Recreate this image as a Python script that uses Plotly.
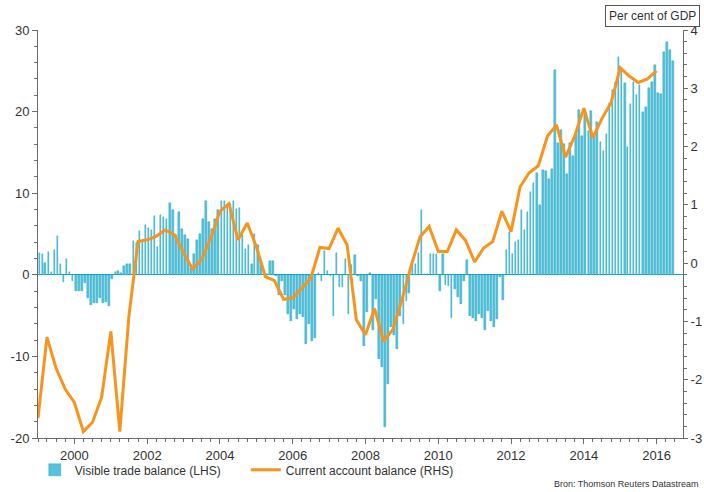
import pandas as pd
import plotly.graph_objects as go

# Visible trade balance (LHS), monthly 1999-01 .. 2016-06
trade_1999 = [2.7, 2.6, 1.5, 2.8, 0.3, 3.1, 4.7, 1.3, -0.9, 1.9, 0.3, -0.7]
trade_2000 = [-2.0, -2.0, -2.0, -1.0, -2.9, -3.7, -3.4, -3.4, -2.9, -3.4, -3.3, -3.8]
trade_2001 = [-0.5, 0.3, 0.45, 0.2, 1.1, 1.35, 1.35, 4.2, 3.9, 5.4, 4.2, 6.1]
trade_2002 = [5.7, 5.5, 7.2, 3.4, 7.3, 7.1, 6.9, 8.8, 7.9, 4.9, 7.7, 5.6]
trade_2003 = [4.9, 4.4, 0.8, 2.6, 4.3, 5.0, 6.8, 9.0, 6.5, 5.6, 6.9, 7.9]
trade_2004 = [9.0, 9.0, 8.5, 8.7, 9.1, 8.1, 8.2, 4.9, 3.2, 3.6, 1.3, 5.0]
trade_2005 = [3.6, 1.6, 0.1, 0.1, 1.7, 1.7, -0.2, -2.5, -0.7, -2.5, -4.8, -5.6]
trade_2006 = [-4.2, -5.4, -4.8, -5.2, -8.5, -6.0, -8.1, -7.8, 0.2, -0.7, 2.9, 0.5]
trade_2007 = [-0.2, -5.1, 2.7, -1.5, -1.5, 1.9, -4.8, 1.2, 2.4, -0.1, -0.7, -8.7]
trade_2008 = [-4.5, 0.2, -6.8, -3.0, -10.3, -11.3, -18.7, -13.4, -6.4, -7.4, -9.1, -5.0]
trade_2009 = [-6.0, -3.2, -2.2, 1.3, 1.3, 2.7, 8.0, 0.1, 0.05, 2.5, 2.5, 2.5]
trade_2010 = [-2.0, 2.5, -1.2, -1.4, -5.3, -1.7, -2.7, -3.6, -0.7, 1.8, -5.0, -5.3]
trade_2011 = [-5.6, -4.8, -5.3, -6.8, -4.4, -5.6, -6.4, -5.4, -0.3, -3.1, 3.0, 5.2]
trade_2012 = [2.5, 4.0, 4.3, 8.0, 5.5, 7.7, 10.2, 11.3, 12.5, 8.5, 12.9, 12.7]
trade_2013 = [11.7, 13.0, 25.1, 16.2, 17.8, 16.0, 12.4, 16.2, 14.6, 17.3, 20.2, 17.0]
trade_2014 = [20.2, 17.6, 20.1, 17.0, 18.7, 16.3, 15.2, 17.3, 21.1, 22.7, 23.6, 26.7]
trade_2015 = [25.2, 23.5, 15.7, 20.9, 23.6, 22.0, 23.3, 20.0, 20.6, 22.9, 23.6, 25.7]
trade_2016 = [22.3, 22.2, 27.3, 28.5, 27.6, 26.2]

# Current account balance (RHS, per cent of GDP), quarterly 1999Q1 .. 2016Q1
current_account = [
    -2.66, -1.27, -1.80, -2.16, -2.39, -2.89, -2.73, -2.30, -1.17, -2.89,
    -0.92, 0.37, 0.40, 0.46, 0.57, 0.49, 0.18, -0.10, 0.06, 0.43,
    0.89, 1.02, 0.40, 0.69, 0.28, -0.23, -0.30, -0.62, -0.60, -0.43,
    -0.26, 0.27, 0.25, 0.60, 0.31, -0.97, -1.23, -0.78, -1.34, -1.14,
    -0.63, -0.06, 0.45, 0.63, 0.20, 0.20, 0.57, 0.39, 0.02, 0.26,
    0.37, 0.89, 0.54, 1.31, 1.55, 1.67, 2.18, 2.37, 1.82, 2.18,
    2.66, 2.15, 2.48, 2.75, 3.35, 3.21, 3.10, 3.16, 3.30,
]

# Tick labels
lhs_ticks = [-20, -10, 0, 10, 20, 30]
lhs_labels = ["-20", "-10", "0", "10", "20", "30"]
rhs_ticks = [-3, -2, -1, 0, 1, 2, 3, 4]
rhs_labels = ["-3", "-2", "-1", "0", "1", "2", "3", "4"]
year_ticks = [f"{y}-01-01" for y in range(2000, 2017, 2)]
year_labels = [str(y) for y in range(2000, 2017, 2)]

trade = (trade_1999 + trade_2000 + trade_2001 + trade_2002 + trade_2003 + trade_2004
         + trade_2005 + trade_2006 + trade_2007 + trade_2008 + trade_2009 + trade_2010
         + trade_2011 + trade_2012 + trade_2013 + trade_2014 + trade_2015 + trade_2016)

month_dates = pd.date_range("1999-01-01", periods=len(trade), freq="MS") + pd.Timedelta(days=14)
quarter_dates = pd.date_range("1999-01-01", periods=len(current_account), freq="QS")

FONT = "Liberation Sans, Arial, sans-serif"
AXIS = "#6b6b6b"
TEXT = "#333333"

fig = go.Figure()
fig.add_trace(go.Bar(
    x=month_dates, y=trade, name="Visible trade balance (LHS)",
    marker=dict(color="#55C1DA", line=dict(color="#139FC1", width=0.4)),
    width=16 * 24 * 3600 * 1000, yaxis="y",
))
fig.add_trace(go.Scatter(
    x=quarter_dates, y=current_account, name="Current account balance (RHS)",
    mode="lines", line=dict(color="#F7941D", width=3), yaxis="y2",
))

fig.update_layout(
    width=704, height=492,
    margin=dict(l=38, r=21, t=30, b=54, autoexpand=False),
    paper_bgcolor="white", plot_bgcolor="white",
    font=dict(family=FONT, size=13, color=TEXT),
    bargap=0,
    showlegend=True,
    legend=dict(orientation="h", x=-0.005, xanchor="left", y=-0.078, yanchor="middle",
                font=dict(size=12, color=TEXT), bgcolor="rgba(0,0,0,0)",
                itemwidth=30, tracegroupgap=0, entrywidth=166, entrywidthmode="pixels"),
    xaxis=dict(
        type="date", range=["1999-01-01", "2016-09-22"],
        tickvals=year_ticks, ticktext=year_labels,
        ticks="outside", ticklen=5, tickcolor=AXIS,
        showline=True, linecolor=AXIS, linewidth=1,
        showgrid=False, zeroline=False, automargin=False,
        minor=dict(ticks="outside", ticklen=3, tickcolor=AXIS, dtick="M3",
                   tick0="1999-01-01", showgrid=False),
        tickfont=dict(size=13, color=TEXT),
    ),
    yaxis=dict(
        range=[-20, 30], tickvals=lhs_ticks, ticktext=lhs_labels,
        ticks="outside", ticklen=5, tickcolor=AXIS,
        showline=True, linecolor=AXIS, linewidth=1, automargin=False,
        showgrid=False, zeroline=True, zerolinecolor="#17A3C4", zerolinewidth=1,
        minor=dict(ticks="outside", ticklen=3, tickcolor=AXIS, dtick=2, showgrid=False),
        tickfont=dict(size=13, color=TEXT),
    ),
    yaxis2=dict(
        range=[-3, 4], tickvals=rhs_ticks, ticktext=rhs_labels,
        overlaying="y", side="right", automargin=False,
        ticks="outside", ticklen=4, tickcolor=AXIS,
        showline=True, linecolor=AXIS, linewidth=1,
        showgrid=False, zeroline=False,
        minor=dict(ticks="outside", ticklen=3, tickcolor=AXIS, dtick=0.2, showgrid=False),
        tickfont=dict(size=13, color=TEXT),
    ),
    annotations=[
        dict(text="Per cent of GDP", xref="paper", yref="paper",
             x=1.026, xanchor="right", y=1.034, yanchor="middle",
             showarrow=False, font=dict(size=12, color=TEXT),
             bordercolor="#555555", borderwidth=1, borderpad=3, bgcolor="white"),
        dict(text="Bron: Thomson Reuters Datastream", xref="paper", yref="paper",
             x=1.026, xanchor="right", y=-0.113, yanchor="middle",
             showarrow=False, font=dict(size=9, color=TEXT)),
    ],
)

fig.write_html("out.html", config={"displayModeBar": False},
               post_script="document.body.style.margin='0';")
